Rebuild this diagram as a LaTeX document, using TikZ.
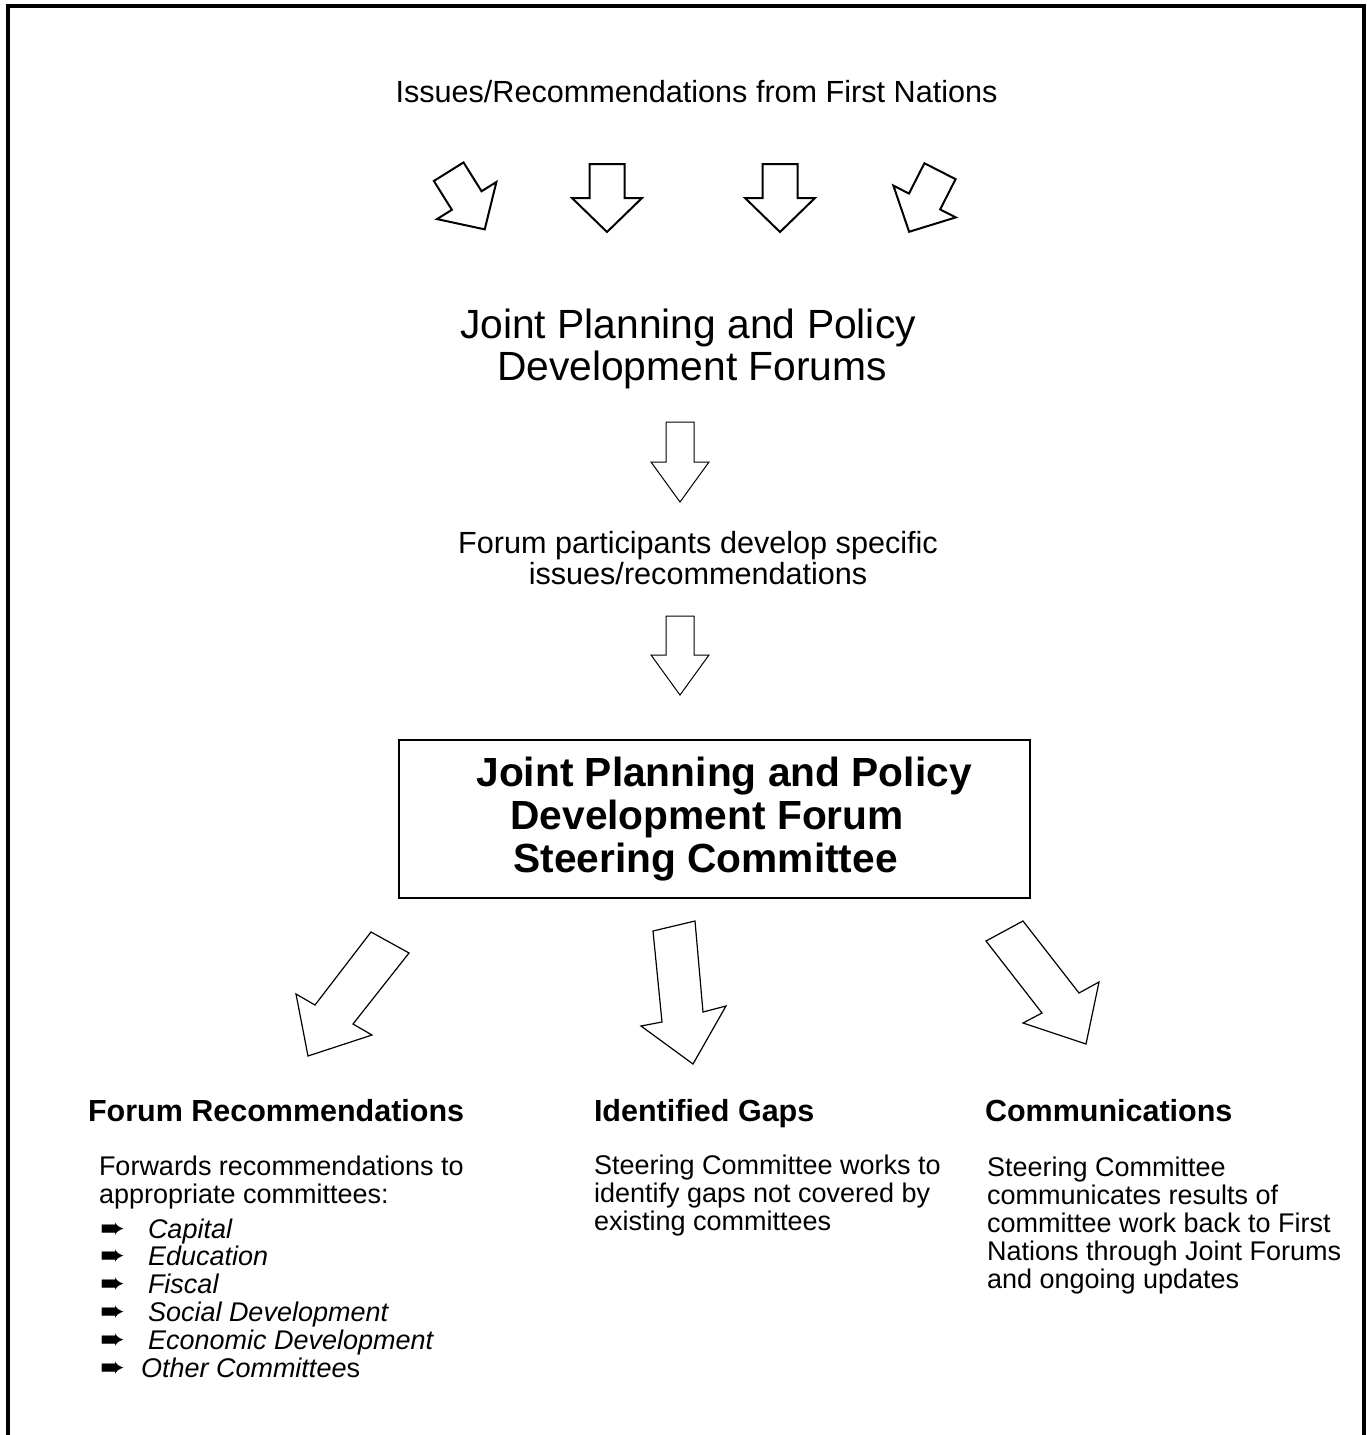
\documentclass[tikz,border=0pt]{standalone}
\usepackage{fontspec}
\setmainfont{Liberation Sans}
\newfontfamily\dingfont{DejaVu Sans}
\newcommand{\listarrow}{{\dingfont\fontsize{30}{27}\selectfont ➨}}

\begin{document}
\begin{tikzpicture}[x=1pt, y=-1pt,
  every node/.style={inner sep=0pt, outer sep=0pt},
  title/.style={font=\fontsize{30.6}{31}\selectfont, align=center},
  bigtitle/.style={font=\fontsize{40.8}{42}\selectfont, align=center},
  heading/.style={font=\fontsize{30.5}{31}\selectfont\bfseries, anchor=base west},
  body/.style={font=\fontsize{27}{28}\selectfont, align=left, anchor=base west},
  thickarrow/.style={draw, line width=2pt},
  thinarrow/.style={draw, line width=1pt},
  pics/blockarrow/.style args={#1/#2/#3/#4}{code={
    \path[pic actions] (-#1,0) -- (#1,0) -- (#1,#3) -- (#2,#3) -- (0,#4)
      -- (-#2,#3) -- (-#1,#3) -- cycle;
  }}]

% Page and frame
\useasboundingbox (0,0) rectangle (1366,1435);
\clip (0,0) rectangle (1366,1435);
\draw[line width=4pt] (8,6) rectangle (1364,1460);

% Top
\node[title, anchor=base] (issues) at (696.5,102.7)
  {Issues/Recommendations from First Nations};

% Four arrows from First Nations (stem half / head half / head base / tip)
\pic[thickarrow, rotate=32]  at (448.7,171.7) {blockarrow=17.5/35/34/68};
\pic[thickarrow]             at (607,164)     {blockarrow=17.5/35/34/68};
\pic[thickarrow]             at (780,164)     {blockarrow=17.5/35/34/68};
\pic[thickarrow, rotate=-27] at (940,171.2)   {blockarrow=17.5/35/34/68};

% Forums
\node[bigtitle] (forums) at (688,348.5)
  {Joint Planning and Policy\\ \hspace*{8pt}Development Forums};

\pic[thinarrow] at (680,422) {blockarrow=14/29/40/80};

\node[title] (develop) at (698,558)
  {Forum participants develop specific\\ issues/recommendations};

\pic[thinarrow] at (680,616) {blockarrow=14/29/39/79};

% Steering committee box
\node[draw, line width=1.5pt, minimum width=631pt, minimum height=158pt,
  font=\fontsize{40.7}{43}\selectfont\bfseries, align=left] (steering) at (714.5,819)
  {\hspace*{19pt}Joint Planning and Policy\\
   \hspace*{53pt}Development Forum\\
   \hspace*{56pt}Steering Committee};

% Three arrows out of the committee
\draw[thinarrow, line width=1.2pt] (371,932) -- (409,953) -- (353,1024) -- (372,1035)
  -- (308,1056) -- (296,994) -- (315,1005) -- cycle;
\draw[thinarrow, line width=1.2pt] (653,931) -- (695,921) -- (703,1012) -- (726,1006)
  -- (693,1064) -- (641,1026) -- (662,1022) -- cycle;
\draw[thinarrow, line width=1.2pt] (986,941) -- (1023,921) -- (1079,993) -- (1099,982)
  -- (1086,1044) -- (1023,1023) -- (1042,1013) -- cycle;

% Headings
\node[heading] (recs) at (88,1121) {Forum Recommendations};
\node[heading] (gaps) at (594,1121) {Identified Gaps};
\node[heading] (comms) at (985,1121) {Communications};

% Column texts (base = last line)
\node[body] (forwards) at (99,1203)
  {Forwards recommendations to\\ appropriate committees:};
\node[body, font=\fontsize{27}{27.8}\selectfont] (list) at (100,1377)
  {\makebox[48pt][l]{\listarrow}\textit{Capital}\\
   \makebox[48pt][l]{\listarrow}\textit{Education}\\
   \makebox[48pt][l]{\listarrow}\textit{Fiscal}\\
   \makebox[48pt][l]{\listarrow}\textit{Social Development}\\
   \makebox[48pt][l]{\listarrow}\textit{Economic Development}\\
   \makebox[41pt][l]{\listarrow}\textit{Other Committee}s};
\node[body] (gapstext) at (594,1230)
  {Steering Committee works to\\ identify gaps not covered by\\ existing committees};
\node[body] (commstext) at (987,1288)
  {Steering Committee\\ communicates results of\\ committee work back to First\\
   Nations through Joint Forums\\ and ongoing updates};

\end{tikzpicture}
\end{document}
